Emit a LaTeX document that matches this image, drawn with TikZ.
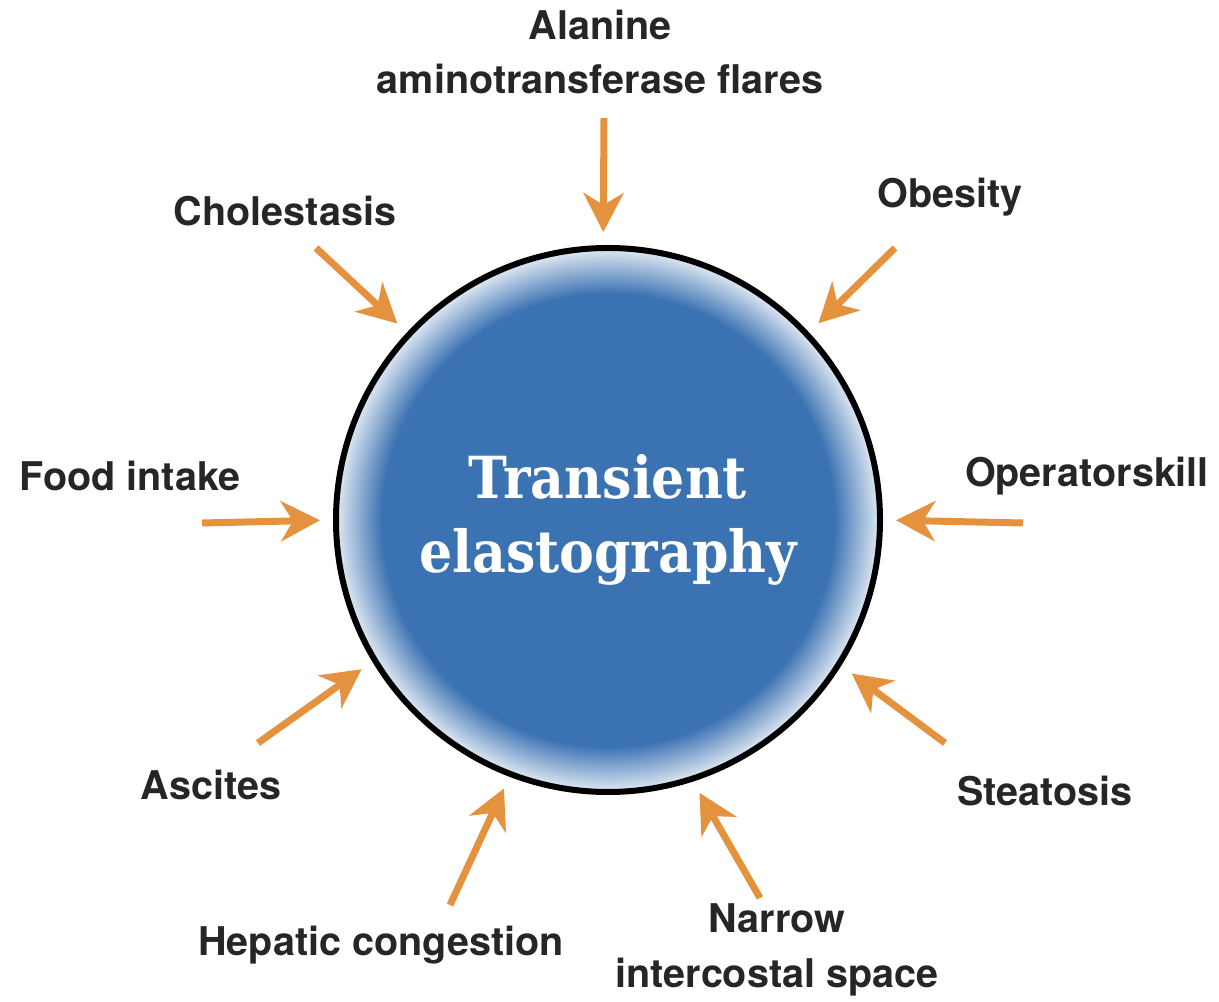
\documentclass[tikz,border=0pt]{standalone}
\usepackage{fontspec}
\setmainfont{TeX Gyre Heros}
\newfontfamily\slabfont{DejaVu Serif Condensed}
\usetikzlibrary{positioning,arrows.meta}
\definecolor{teblue}{HTML}{3B72B2}
\definecolor{teorange}{HTML}{E5923F}
\definecolor{tetext}{HTML}{262626}
\pgfdeclareradialshading{teshade}{\pgfpoint{0bp}{0bp}}{color(0bp)=(teblue); color(20.8bp)=(teblue); color(25bp)=(teblue!15!white); color(50bp)=(teblue!15!white)}

\begin{document}
\begin{tikzpicture}[x=0.2mm, y=-0.2mm,
  lbl/.style={font=\fontsize{22.5}{31}\selectfont\bfseries, text=tetext, align=center, inner sep=0pt},
  arr/.style={-{Stealth[length=7.8mm, width=8mm, inset=2.4mm]}, line width=1.4mm, draw=teorange, shorten >=2.6mm},
  ball/.style={circle, draw, line width=1.2mm, minimum size=108.8mm, shading=teshade, inner sep=0pt,
    align=center, text=white, font=\slabfont\fontsize{33}{42}\selectfont\bfseries}]
\useasboundingbox (0,0) rectangle (1219,1002);
\node[ball] (te) at (608,520) {Transient\\elastography};
% factors round the circle
\node[lbl] (alt) at (600,52) {Alanine\\aminotransferase flares};
\node[lbl] (cho) at (285,211) {Cholestasis};
\node[lbl] (obe) at (950,197) {Obesity};
\node[lbl] (food) at (130,476) {Food intake};
\node[lbl] (op) at (1087,476) {Operatorskill};
\node[lbl] (asc) at (211,785) {Ascites};
\node[lbl] (ste) at (1045,791) {Steatosis};
\node[lbl] (hep) at (381,945) {Hepatic congestion};
\node[lbl] (nar) at (777,950) {Narrow\\intercostal space};
% arrow tails
\coordinate (altT) at (604,118);
\coordinate (choT) at (316,248);
\coordinate (obeT) at (895,248);
\coordinate (foodT) at (202,523);
\coordinate (opT) at (1023,523);
\coordinate (ascT) at (258,743);
\coordinate (steT) at (945,743);
\coordinate (hepT) at (450,905);
\coordinate (narT) at (760,898);
\draw[arr] (altT) -- (te.91); \draw[arr] (choT) -- (te.137); \draw[arr] (obeT) -- (te.43.5);
\draw[arr] (foodT) -- (te.180); \draw[arr] (opT) -- (te.0); \draw[arr] (ascT) -- (te.211);
\draw[arr] (steT) -- (te.-32); \draw[arr] (hepT) -- (te.249); \draw[arr] (narT) -- (te.-72);
\end{tikzpicture}
\end{document}
